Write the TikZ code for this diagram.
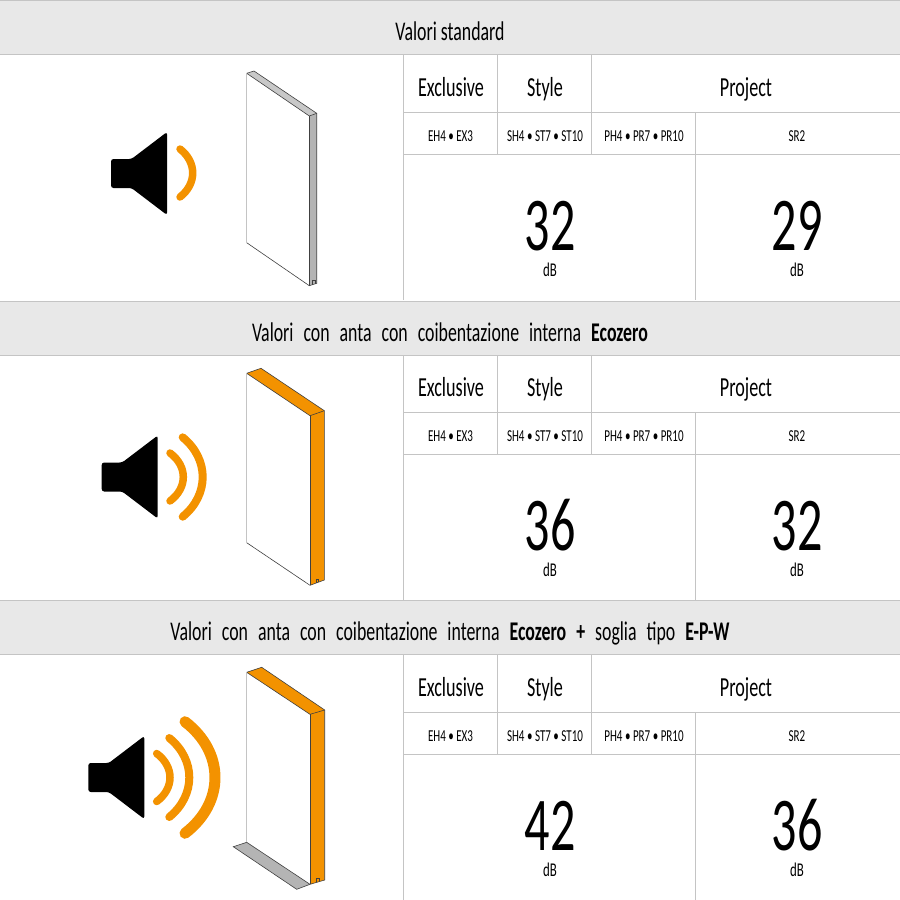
\documentclass[tikz,border=0pt]{standalone}
\usepackage{fontspec}
\setmainfont{Carlito}[FakeStretch=0.66]
\usepackage{tikz}
\definecolor{bandgray}{HTML}{E8E8E8}
\definecolor{linegray}{HTML}{C4C4C4}
\definecolor{sidegray}{HTML}{B4B4B4}
\definecolor{topgray}{HTML}{C8C8C8}
\definecolor{ecoorange}{HTML}{F39200}
\tikzset{
    band/.style={fill=bandgray, draw=linegray, line width=0.8pt},
    rule/.style={draw=linegray, line width=1pt},
    wave/.style={draw=ecoorange, line cap=round, line width=#1},
    edge/.style={draw=black!75, line width=0.6pt},
    titletext/.style={font=\fontsize{27}{30}\selectfont, inner sep=0pt, anchor=base},
    headtext/.style={font=\fontsize{27.5}{30}\selectfont, inner sep=0pt, anchor=base},
    subtext/.style={font=\fontsize{16.7}{18}\selectfont, inner sep=0pt, anchor=base},
    bigtext/.style={font=\fontsize{76}{80}\selectfont, inner sep=0pt, anchor=base},
    unittext/.style={font=\fontsize{19.5}{22}\selectfont, inner sep=0pt, anchor=base}
}
\newcommand{\wordgap}{\spaceskip=10pt plus 1pt minus 1pt\relax}
% #1 offset, #2 first value, #3 second value, #4 prefix
\newcommand{\soundtable}[4]{
    \begin{scope}[yshift=-#1pt, name prefix=#4-]
        \draw[rule] (403.5,55) -- (403.5,300);
        \draw[rule] (497.5,55) -- (497.5,154.5);
        \draw[rule] (591.5,55) -- (591.5,154.5);
        \draw[rule] (695.5,112.5) -- (695.5,300);
        \draw[rule] (403.5,112.5) -- (900,112.5);
        \draw[rule] (403.5,154.5) -- (900,154.5);
        \node[headtext] (exclusive) at (451,96) {Exclusive};
        \node[headtext] (style) at (545,96) {Style};
        \node[headtext] (project) at (746,96) {Project};
        \node[subtext] (eh) at (450.5,141) {EH4 • EX3};
        \node[subtext] (sh) at (545,141) {SH4 • ST7 • ST10};
        \node[subtext] (ph) at (644,141) {PH4 • PR7 • PR10};
        \node[subtext] (sr) at (797,141) {SR2};
        \node[bigtext] (valuea) at (550,250) {#2};
        \node[bigtext] (valueb) at (797,250) {#3};
        \node[unittext] (unita) at (550,276.5) {dB};
        \node[unittext] (unitb) at (797,276.5) {dB};
    \end{scope}
}
% #1 left end, #2 centre height
\newcommand{\speaker}[2]{
    \begin{scope}[xshift=#1pt, yshift=-#2pt]
        \fill[black, rounded corners=2.5pt] (0,-14.5) -- (20.5,-14.5) -- (56,-41.5) -- (56,41.5) -- (20.5,14.5) -- (0,14.5) -- cycle;
    \end{scope}
}
% #1 left end, #2 centre height, #3 half height, #4 depth, #5 width
\newcommand{\soundwave}[5]{
    \draw[wave=#5] (#1,#2-#3) .. controls (#1+1.333*#4,#2-0.45*#3) and (#1+1.333*#4,#2+0.45*#3) .. (#1,#2+#3);
}
\begin{document}
\begin{tikzpicture}[x=1pt, y=-1pt]
    \useasboundingbox (0,0) rectangle (900,900);
    \fill[white] (0,0) rectangle (900,900);

    \draw[band] (-1,0) rectangle (901,54.5);
    \draw[band] (-1,301) rectangle (901,355.5);
    \draw[band] (-1,600.5) rectangle (901,654.5);

    \node[titletext] (titlea) at (450,40) {Valori standard};
    \node[titletext] (titleb) at (450,341) {\wordgap Valori con anta con coibentazione interna \textbf{Ecozero}};
    \node[titletext] (titlec) at (450,640) {\wordgap Valori con anta con coibentazione interna \textbf{Ecozero +} soglia tipo \textbf{E-P-W}};

    \soundtable{0}{32}{29}{first}
    \soundtable{300}{36}{32}{second}
    \soundtable{600}{42}{36}{third}

    % standard door
    \fill[topgray] (246.7,73.3) -- (254,71) -- (316.7,113.3) -- (309.3,116) -- cycle;
    \fill[sidegray] (309.3,116) -- (316.7,113.3) -- (316.7,283.3) -- (309.3,285.7) -- cycle;
    \draw[edge] (254,71) -- (316.7,113.3) -- (316.7,283.3) -- (309.3,285.7) -- (246.7,242.7);
    \draw[edge] (246.7,73.3) -- (254,71);
    \draw[edge] (246.7,73.3) -- (309.3,116) -- (316.7,113.3);
    \draw[edge] (309.3,116) -- (309.3,285.7);
    \draw[linegray, line width=1pt] (246.7,73.3) -- (246.7,242.7);
    \draw[edge, line width=0.4pt] (312.5,284.5) -- (312.5,280.5) -- (315,280.5) -- (315,283.8);

    \speaker{111}{173.5}
    \soundwave{180}{173}{24}{12.7}{7.5pt}

    % door with ecozero
    \fill[ecoorange] (246.7,373.3) -- (261,368.3) -- (324.3,410.7) -- (324.3,580) -- (310,585.3) -- (310,415.7) -- cycle;
    \draw[edge] (246.7,373.3) -- (261,368.3) -- (324.3,410.7) -- (324.3,580) -- (310,585.3) -- (246.7,542.7);
    \draw[edge] (246.7,373.3) -- (310,415.7) -- (324.3,410.7);
    \draw[edge] (310,415.7) -- (310,585.3);
    \draw[linegray, line width=1pt] (246.7,373.3) -- (246.7,542.7);
    \draw[edge, line width=0.4pt] (316,582.5) -- (316,578.8) -- (318.5,578.8) -- (318.5,582);

    \speaker{101.7}{477}
    \soundwave{170}{477}{24}{13.3}{7.5pt}
    \soundwave{182.7}{477}{39.7}{20}{8pt}

    % door with ecozero and threshold
    \fill[sidegray] (246.7,842.3) -- (233.3,846.7) -- (296.7,889.3) -- (310,884.3) -- cycle;
    \draw[edge] (246.7,842.3) -- (233.3,846.7) -- (296.7,889.3) -- (310,884.3);
    \fill[ecoorange] (246.7,672.3) -- (261.7,667.3) -- (324.7,710) -- (324.7,880) -- (310,884.3) -- (310,714.3) -- cycle;
    \draw[edge] (246.7,672.3) -- (261.7,667.3) -- (324.7,710) -- (324.7,880) -- (310,884.3) -- (246.7,842.3);
    \draw[edge] (246.7,672.3) -- (310,714.3) -- (324.7,710);
    \draw[edge] (310,714.3) -- (310,884.3);
    \draw[linegray, line width=1pt] (246.7,672.3) -- (246.7,842.3);
    \draw[edge, line width=0.4pt] (316.5,882) -- (316.5,878) -- (319,878) -- (319,881.3);

    \speaker{88.3}{777.5}
    \soundwave{156.7}{777.5}{24}{13.3}{7.5pt}
    \soundwave{169.3}{777.5}{39.5}{20}{8pt}
    \soundwave{185}{777.5}{55.8}{30}{11pt}
\end{tikzpicture}
\end{document}
